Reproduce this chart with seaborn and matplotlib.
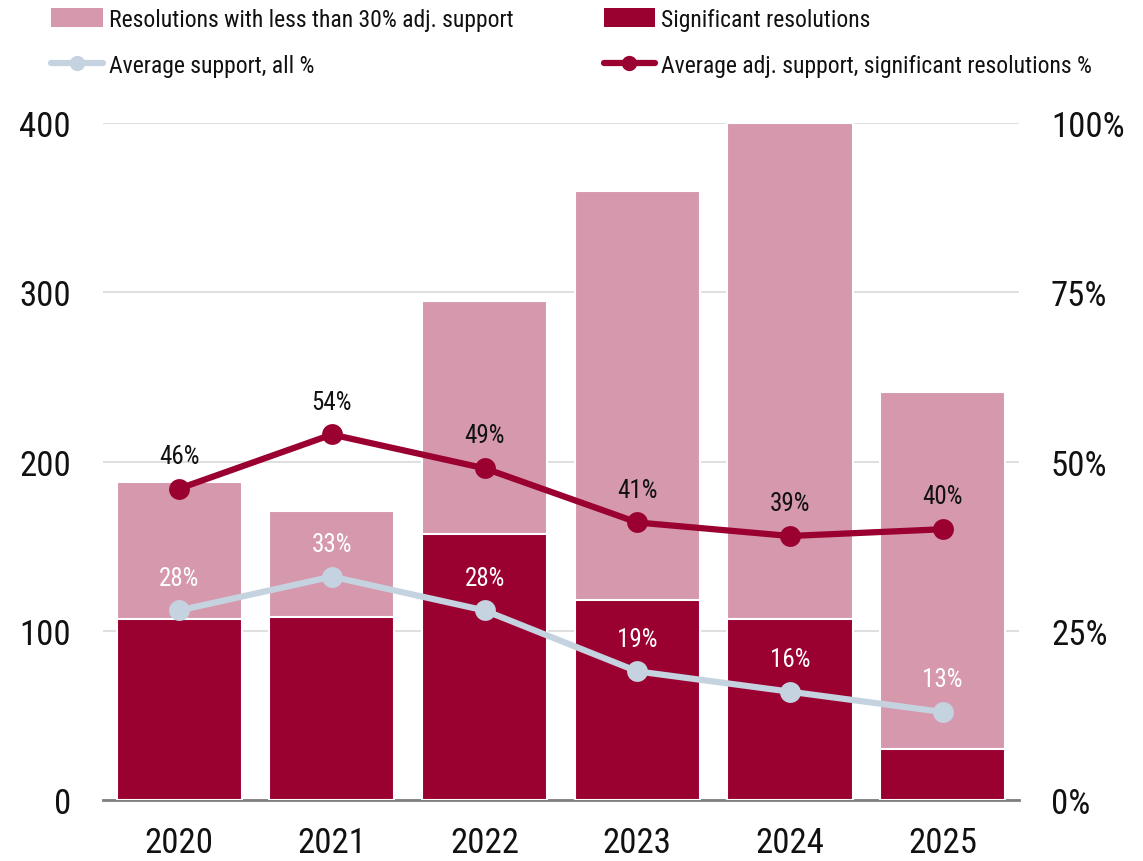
import matplotlib
matplotlib.use("Agg")
import matplotlib.pyplot as plt
import matplotlib.font_manager as fm
from matplotlib.patches import Patch
from matplotlib.lines import Line2D
import seaborn as sns
import pandas as pd

# Shareholder resolution counts and average support by year
years = ["2020", "2021", "2022", "2023", "2024", "2025"]
significant = [107, 108, 157, 118, 107, 30]
low_support = [81, 63, 138, 242, 293, 211]
avg_support_all = [28, 33, 28, 19, 16, 13]
avg_support_significant = [46, 54, 49, 41, 39, 40]

left_ticks = [0, 100, 200, 300, 400]
right_ticks = [0, 25, 50, 75, 100]

DARK = "#9A0030"
PINK = "#D698AC"
LIGHT = "#C5D3E0"
TEXT = "#111111"

sns.set_theme(style="white")

# Prefer a narrow/condensed sans face when one is installed
preferred = ["Roboto Condensed", "Roboto", "Open Sans", "Noto Sans", "Liberation Sans Narrow",
             "Liberation Sans", "DejaVu Sans", "Lato", "Inter"]
narrow = []
for f in fm.fontManager.ttflist:
    is_narrow = (f.stretch in ("condensed", "semi-condensed", "extra-condensed")
                 or "Condensed" in f.name or "Narrow" in f.name)
    if is_narrow and f.style == "normal" and f.weight in (400, "normal", "regular", "book"):
        narrow.append(f)
narrow.sort(key=lambda f: next((i for i, p in enumerate(preferred) if f.name.startswith(p.split()[0])), 99))

if narrow:
    face = narrow[0]
    plt.rcParams["font.family"] = [face.name, "DejaVu Sans"]
    plt.rcParams["font.stretch"] = face.stretch
    tick_size, label_size, legend_size = 25, 18, 17
else:
    plt.rcParams["font.family"] = ["Roboto", "DejaVu Sans"]
    tick_size, label_size, legend_size = 21, 15, 14.5

df = pd.DataFrame({
    "year": years,
    "significant": significant,
    "total": [s + l for s, l in zip(significant, low_support)],
    "all": avg_support_all,
    "sig": avg_support_significant,
})

fig = plt.figure(figsize=(11.43, 8.62), dpi=100)
ax = fig.add_axes([0.090, 0.0708, 0.8015, 0.7852])

sns.barplot(data=df, x="year", y="total", color=PINK, width=0.82,
            edgecolor="white", linewidth=1.5, saturation=1, ax=ax, zorder=2)
sns.barplot(data=df, x="year", y="significant", color=DARK, width=0.82,
            edgecolor="white", linewidth=1.5, saturation=1, ax=ax, zorder=3)

ax.set_xlim(-0.5, 5.5)
ax.set_ylim(0, 400)
ax.set_yticks(left_ticks)
ax.set_yticklabels([str(t) for t in left_ticks])
ax.yaxis.grid(True, color="#D9D9D9", linewidth=1.2, zorder=0)
ax.set_axisbelow(True)
ax.set_xlabel("")
ax.set_ylabel("")
for side in ["top", "left", "right"]:
    ax.spines[side].set_visible(False)
ax.spines["bottom"].set_color("#7F7F7F")
ax.spines["bottom"].set_linewidth(2)
ax.tick_params(axis="y", length=0, pad=23, labelsize=tick_size, labelcolor=TEXT)
ax.tick_params(axis="x", length=0, pad=19, labelsize=tick_size, labelcolor=TEXT)

ax2 = ax.twinx()
x_pos = list(range(len(years)))
sns.lineplot(x=x_pos, y=df["all"], ax=ax2, color=LIGHT, linewidth=4.5,
             marker="o", markersize=15, markeredgewidth=0, zorder=4)
sns.lineplot(x=x_pos, y=df["sig"], ax=ax2, color=DARK, linewidth=4.5,
             marker="o", markersize=15, markeredgewidth=0, zorder=5)
ax2.set_ylim(0, 100)
ax2.set_yticks(right_ticks)
ax2.set_yticklabels([f"{t}%" for t in right_ticks])
ax2.set_ylabel("")
ax2.tick_params(axis="y", length=0, pad=23, labelsize=tick_size, labelcolor=TEXT)
for side in ["top", "left", "right", "bottom"]:
    ax2.spines[side].set_visible(False)
ax2.set_xlim(-0.5, 5.5)

for i, (a, s) in enumerate(zip(avg_support_all, avg_support_significant)):
    ax2.annotate(f"{s}%", (i, s), xytext=(0, 15), textcoords="offset points",
                 ha="center", va="bottom", fontsize=label_size, color=TEXT)
    ax2.annotate(f"{a}%", (i, a), xytext=(0, 15), textcoords="offset points",
                 ha="center", va="bottom", fontsize=label_size, color="white")

legend_kw = dict(frameon=False, fontsize=legend_size, handlelength=2.2, handleheight=0.9,
                 labelspacing=1.0, handletextpad=0.25, borderaxespad=0, borderpad=0,
                 loc="upper left", labelcolor=TEXT)
leg1 = fig.legend(
    handles=[Patch(facecolor=PINK, edgecolor="none"),
             Line2D([0], [0], color=LIGHT, lw=4.5, marker="o", markersize=10)],
    labels=["Resolutions with less than 30% adj. support", "Average support, all %"],
    bbox_to_anchor=(0.0446, 0.99), **legend_kw)
leg2 = fig.legend(
    handles=[Patch(facecolor=DARK, edgecolor="none"),
             Line2D([0], [0], color=DARK, lw=4.5, marker="o", markersize=10)],
    labels=["Significant resolutions", "Average adj. support, significant resolutions %"],
    bbox_to_anchor=(0.528, 0.99), **legend_kw)

fig.savefig("out.png", dpi=100)
